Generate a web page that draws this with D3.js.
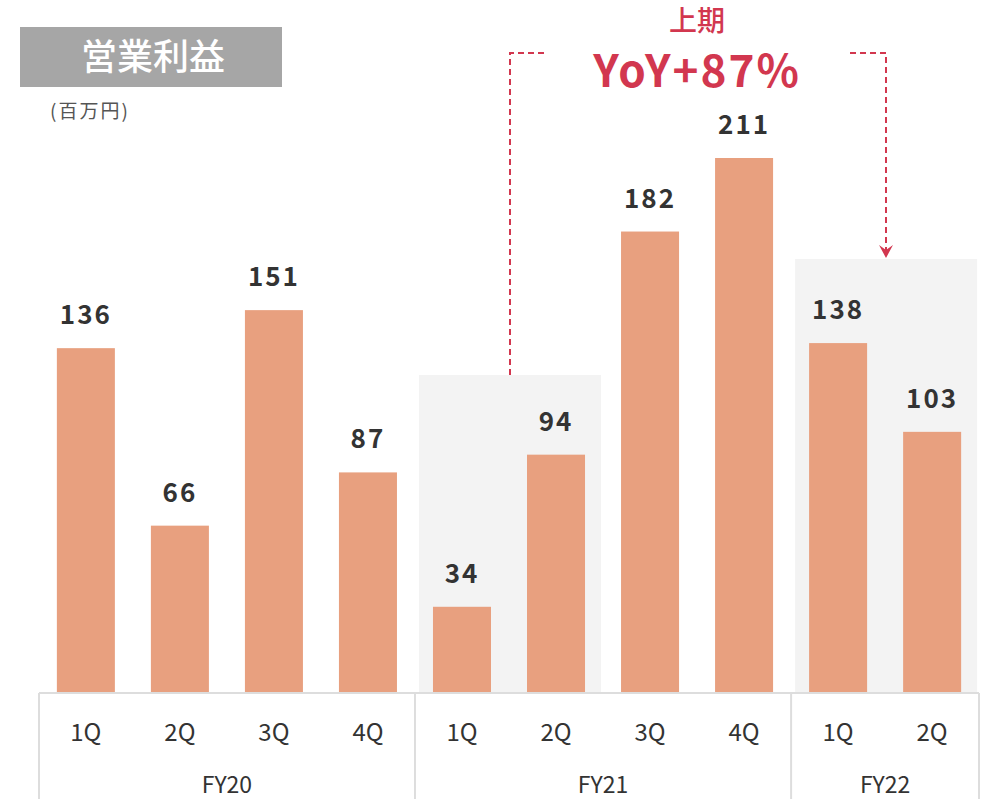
<!DOCTYPE html>
<html>
<head>
<meta charset="utf-8">
<script src="https://cdn.jsdelivr.net/npm/d3@7"></script>
<style>
  body { margin: 0; background: #fff; }
  text { font-family: "Noto Sans CJK JP", "Noto Sans", sans-serif; }
</style>
</head>
<body>
<div id="chart"></div>
<script>
// data
var quarters = ['1Q', '2Q', '3Q', '4Q', '1Q', '2Q', '3Q', '4Q', '1Q', '2Q'];
var years = ['FY20', 'FY20', 'FY20', 'FY20', 'FY21', 'FY21', 'FY21', 'FY21', 'FY22', 'FY22'];
var values = [136, 66, 151, 87, 34, 94, 182, 211, 138, 103];
var fyGroups = ['FY20', 'FY21', 'FY22'];
var highlight = [[4, 5], [8, 9]]; // first-half periods compared

var width = 987, height = 799;
var barColor = '#e8a07f', redColor = '#d2374f', boxColor = '#f3f3f3', frameColor = '#dddddd';

var svg = d3.select('#chart').append('svg')
  .attr('width', width)
  .attr('height', height);

var baseY = 693;
var x = d3.scaleBand()
  .domain(d3.range(values.length))
  .range([39, 979])
  .paddingInner(0.383)
  .paddingOuter(0.19);
var y = d3.scaleLinear().domain([0, 211]).range([baseY, 158]);

// grey boxes behind first-half bars
var boxTops = [375, 259];
highlight.forEach(function(h, i) {
  var x0 = x(h[0]) - 14, x1 = x(h[1]) + x.bandwidth() + 16;
  svg.append('rect')
    .attr('x', x0).attr('y', boxTops[i])
    .attr('width', x1 - x0).attr('height', baseY - boxTops[i])
    .attr('fill', boxColor);
});

// bars
svg.selectAll('rect.bar')
  .data(values)
  .enter().append('rect')
  .attr('class', 'bar')
  .attr('x', function(d, i) { return x(i); })
  .attr('y', function(d) { return y(d); })
  .attr('width', x.bandwidth())
  .attr('height', function(d) { return baseY - y(d); })
  .attr('fill', barColor);

// value labels
svg.selectAll('text.val')
  .data(values)
  .enter().append('text')
  .attr('class', 'val')
  .attr('x', function(d, i) { return x(i) + x.bandwidth() / 2; })
  .attr('y', function(d) { return y(d) - 24; })
  .attr('text-anchor', 'middle')
  .attr('font-size', 26)
  .attr('font-weight', 'bold')
  .attr('letter-spacing', 2)
  .attr('fill', '#333')
  .text(function(d) { return d; });

// axis frame
svg.append('line')
  .attr('x1', 39).attr('x2', 979).attr('y1', baseY).attr('y2', baseY)
  .attr('stroke', frameColor).attr('stroke-width', 2);
var sepIdx = [0, 4, 8, values.length];
sepIdx.forEach(function(i) {
  var sx = i === 0 ? 39 : (i === values.length ? 979 : (x(i - 1) + x.bandwidth() + x(i)) / 2);
  svg.append('line')
    .attr('x1', sx).attr('x2', sx).attr('y1', baseY).attr('y2', height)
    .attr('stroke', frameColor).attr('stroke-width', 2);
});

// quarter labels
svg.selectAll('text.q')
  .data(quarters)
  .enter().append('text')
  .attr('class', 'q')
  .attr('x', function(d, i) { return x(i) + x.bandwidth() / 2; })
  .attr('y', 741)
  .attr('text-anchor', 'middle')
  .attr('font-size', 24)
  .attr('fill', '#333')
  .text(function(d) { return d; });

// fiscal year labels
fyGroups.forEach(function(fy) {
  var idx = d3.range(values.length).filter(function(i) { return years[i] === fy; });
  var cx = (x(idx[0]) + x(idx[idx.length - 1]) + x.bandwidth()) / 2;
  svg.append('text')
    .attr('x', cx).attr('y', 793)
    .attr('text-anchor', 'middle')
    .attr('font-size', 23)
    .attr('fill', '#333')
    .text(fy);
});

// title
svg.append('rect')
  .attr('x', 20).attr('y', 27).attr('width', 262).attr('height', 60)
  .attr('fill', '#a6a6a6');
svg.append('text')
  .attr('x', 153).attr('y', 70)
  .attr('text-anchor', 'middle')
  .attr('font-size', 36)
  .attr('font-weight', 500)
  .attr('fill', '#fff')
  .text('営業利益');
svg.append('text')
  .attr('x', 50).attr('y', 118)
  .attr('font-size', 19)
  .attr('letter-spacing', 2)
  .attr('fill', '#555')
  .text('(百万円)');

// YoY annotation
var lx = 510, rx = 886;
svg.append('path')
  .attr('d', 'M' + lx + ',' + boxTops[0] + ' V53 H545')
  .attr('fill', 'none').attr('stroke', redColor)
  .attr('stroke-width', 2).attr('stroke-dasharray', '6,4');
svg.append('path')
  .attr('d', 'M850,53 H' + rx + ' V254')
  .attr('fill', 'none').attr('stroke', redColor)
  .attr('stroke-width', 2).attr('stroke-dasharray', '6,4');
svg.append('path')
  .attr('d', 'M' + (rx - 7) + ',245 L' + rx + ',258 L' + (rx + 7) + ',245 L' + rx + ',250 Z')
  .attr('fill', redColor);

svg.append('text')
  .attr('x', 697).attr('y', 31)
  .attr('text-anchor', 'middle')
  .attr('font-size', 28)
  .attr('font-weight', 500)
  .attr('fill', redColor)
  .text('上期');
svg.append('text')
  .attr('x', 697).attr('y', 87)
  .attr('text-anchor', 'middle')
  .attr('font-family', '"Noto Sans", sans-serif')
  .attr('font-size', 44)
  .attr('font-weight', 'bold')
  .attr('letter-spacing', 2)
  .attr('fill', redColor)
  .text('YoY+87%');
</script>
</body>
</html>
